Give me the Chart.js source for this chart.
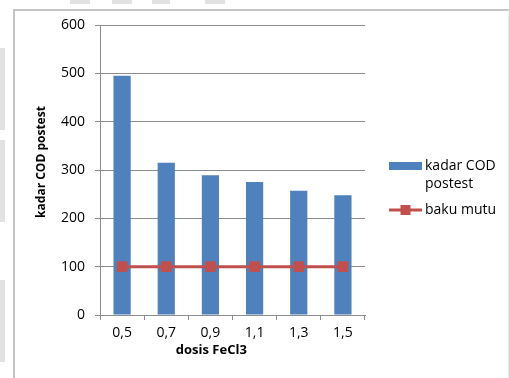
<!DOCTYPE html>
<html>
<head>
<meta charset="utf-8">
<script src="https://cdn.jsdelivr.net/npm/chart.js@4/dist/chart.umd.min.js"></script>
<style>
  html, body { margin: 0; padding: 0; background: #fff; }
  #wrap { position: relative; width: 509px; height: 378px; overflow: hidden; }
  #frame { position: absolute; left: 13px; top: 9px; right: 0; bottom: -4px;
           border-top: 2px solid #c4c4c4; border-left: 2px solid #c4c4c4; border-right: 1px solid #ececec; }
  .smudge { position: absolute; background: #e2e2e2; }
  canvas { position: absolute; left: 0; top: 0; }
</style>
</head>
<body>
<div id="wrap">
  <div class="smudge" style="left:0;top:48px;width:5px;height:82px"></div>
  <div class="smudge" style="left:0;top:140px;width:5px;height:82px"></div>
  <div class="smudge" style="left:0;top:280px;width:5px;height:82px"></div>
  <div class="smudge" style="left:70px;top:0;width:20px;height:4px"></div>
  <div class="smudge" style="left:112px;top:0;width:20px;height:4px"></div>
  <div class="smudge" style="left:152px;top:0;width:18px;height:4px"></div>
  <div class="smudge" style="left:205px;top:0;width:20px;height:4px"></div>
  <div id="frame"></div>
  <canvas id="c" width="509" height="378"></canvas>
</div>
<script>
// FeCl3 dose levels (x categories)
const doses = ['0,5', '0,7', '0,9', '1,1', '1,3', '1,5'];
// COD after treatment
const codPostest = [495, 315, 289, 275, 257, 248];
// quality standard limit
const bakuMutu = [100, 100, 100, 100, 100, 100];
// y-axis ticks
const yTicks = [0, 100, 200, 300, 400, 500, 600];

const FONT = '"Open Sans", "DejaVu Sans", sans-serif';
const BLUE = '#4F81BD';
const RED = '#C0504D';

// axis titles and a two-line legend drawn on the canvas
const decorations = {
  id: 'decorations',
  afterDraw(chart) {
    const ctx = chart.ctx;
    const a = chart.chartArea;
    ctx.save();
    ctx.fillStyle = '#000';
    ctx.textAlign = 'center';
    ctx.textBaseline = 'middle';
    // x title
    ctx.font = 'bold 13px ' + FONT;
    ctx.fillText('dosis FeCl3', a.left + (a.right - a.left) * 0.42, 350);
    // y title
    ctx.font = 'bold 12px ' + FONT;
    ctx.translate(42, 162);
    ctx.rotate(-Math.PI / 2);
    ctx.fillText('kadar COD postest', 0, 0);
    ctx.restore();

    // legend
    const ds = chart.data.datasets;
    const bar = ds.find(d => d.type === 'bar');
    const line = ds.find(d => d.type === 'line');
    ctx.save();
    ctx.font = '14px ' + FONT;
    ctx.textBaseline = 'middle';
    ctx.textAlign = 'left';
    const lx = 389, sw = 33;
    // bar entry
    ctx.fillStyle = bar.backgroundColor;
    ctx.fillRect(lx, 162, sw, 8);
    ctx.fillStyle = '#000';
    const words = bar.label.split(' ');
    ctx.fillText(words.slice(0, 2).join(' '), lx + sw + 3, 166);
    ctx.fillText(words.slice(2).join(' '), lx + sw + 3, 184);
    // line entry
    ctx.strokeStyle = line.borderColor;
    ctx.lineWidth = 3;
    ctx.beginPath();
    ctx.moveTo(lx, 210);
    ctx.lineTo(lx + sw, 210);
    ctx.stroke();
    ctx.fillStyle = line.pointBackgroundColor;
    ctx.fillRect(lx + sw / 2 - 5, 205, 10, 10);
    ctx.fillStyle = '#000';
    ctx.fillText(line.label, lx + sw + 3, 210);
    ctx.restore();
  }
};

new Chart(document.getElementById('c'), {
  data: {
    labels: doses,
    datasets: [
      {
        type: 'bar',
        label: 'kadar COD postest',
        data: codPostest,
        backgroundColor: BLUE,
        borderWidth: 0,
        barPercentage: 0.39,
        categoryPercentage: 1,
        order: 1
      },
      {
        type: 'line',
        label: 'baku mutu',
        data: bakuMutu,
        borderColor: RED,
        borderWidth: 3,
        pointStyle: 'rect',
        pointRadius: 7.5,
        pointBackgroundColor: RED,
        pointBorderColor: RED,
        pointBorderWidth: 0,
        order: 0
      }
    ]
  },
  options: {
    responsive: false,
    animation: false,
    layout: { padding: { left: 0, right: 144, top: 25, bottom: 28 } },
    plugins: { legend: { display: false }, tooltip: { enabled: false }, title: { display: false } },
    scales: {
      x: {
        type: 'category',
        offset: true,
        afterFit(s) { s.height = 35; },
        grid: { display: true, drawOnChartArea: false, offset: true, tickLength: 5, color: '#8c8c8c', lineWidth: 1 },
        border: { display: true, color: '#8c8c8c', width: 1 },
        ticks: { color: '#000', font: { family: FONT, size: 14 }, padding: 5, maxRotation: 0 }
      },
      y: {
        min: 0,
        max: 600,
        afterFit(s) { s.width = 100; },
        afterBuildTicks(s) { s.ticks = yTicks.map(v => ({ value: v })); },
        grid: { color: '#8c8c8c', lineWidth: 1, tickLength: 5 },
        border: { display: true, color: '#8c8c8c', width: 1 },
        ticks: { color: '#000', font: { family: FONT, size: 14 }, padding: 10 }
      }
    }
  },
  plugins: [decorations]
});
</script>
</body>
</html>
